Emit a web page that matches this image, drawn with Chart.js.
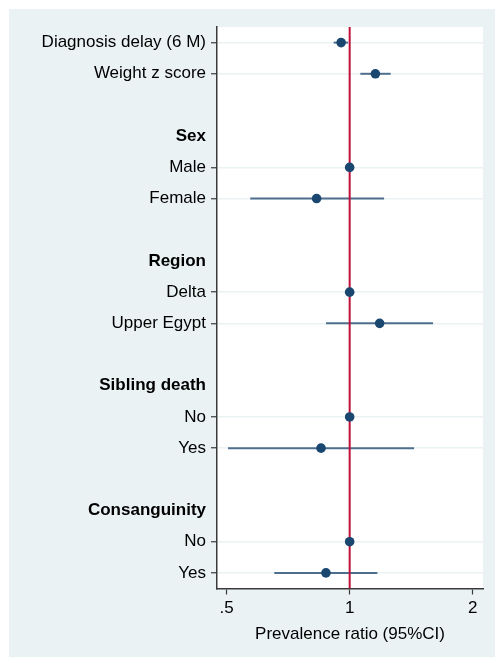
<!DOCTYPE html>
<html>
<head>
<meta charset="utf-8">
<script src="https://cdn.jsdelivr.net/npm/chart.js@4.4.1/dist/chart.umd.min.js"></script>
<style>
  html, body { margin: 0; padding: 0; background: #ffffff; }
  #frame { position: absolute; left: 9px; top: 9px; width: 486px; height: 648px; background: #eaf2f3; }
  canvas { display: block; }
</style>
</head>
<body>
<div id="frame"><canvas id="forest" width="486" height="648"></canvas></div>
<script>
// Row labels, top to bottom (blank strings are spacer rows)
const rowLabels = [
  'Diagnosis delay (6 M)', 'Weight z score', '',
  'Sex', 'Male', 'Female', '',
  'Region', 'Delta', 'Upper Egypt', '',
  'Sibling death', 'No', 'Yes', '',
  'Consanguinity', 'No', 'Yes'
];
// Group headings shown in bold without a tick
const headerRows = [3, 7, 11, 15];

// Prevalence ratios and 95% confidence limits per row (null = no estimate)
const ratio  = [0.953, 1.156, null, null, 1, 0.830, null, null, 1, 1.184, null, null, 1, 0.851, null, null, 1, 0.875];
const ciLow  = [0.914, 1.062, null, null, null, 0.571, null, null, null, 0.875, null, null, null, 0.504, null, null, null, 0.654];
const ciHigh = [0.991, 1.260, null, null, null, 1.214, null, null, null, 1.600, null, null, null, 1.438, null, null, null, 1.169];

// Null-effect reference
const refValue = 1;

// x-axis ticks
const xTicks = [0.5, 1, 2];
const xTickLabels = ['.5', '1', '2'];

const FONT = '"Liberation Sans", Arial, Helvetica, sans-serif';
const isLabelled = i => ratio[i] !== null && ratio[i] !== undefined;

const points = ratio.map((v, i) => v === null ? null : { x: v, y: i }).filter(p => p);

// White plot region
const plotBackground = {
  id: 'plotBackground',
  beforeDraw(chart) {
    const { ctx, chartArea: a } = chart;
    ctx.save();
    ctx.fillStyle = '#ffffff';
    ctx.fillRect(a.left, a.top, a.right - a.left, a.bottom - a.top);
    ctx.restore();
  }
};

// Confidence-interval spikes, drawn under the reference line and markers
const ciSpikes = {
  id: 'ciSpikes',
  beforeDatasetsDraw(chart) {
    const { ctx, scales: { x, y } } = chart;
    ctx.save();
    ctx.strokeStyle = '#4e6e8e';
    ctx.lineWidth = 2;
    ciLow.forEach((lo, i) => {
      if (lo === null) return;
      const py = y.getPixelForValue(i);
      ctx.beginPath();
      ctx.moveTo(x.getPixelForValue(lo), py);
      ctx.lineTo(x.getPixelForValue(ciHigh[i]), py);
      ctx.stroke();
    });
    ctx.restore();
  }
};

new Chart(document.getElementById('forest'), {
  type: 'scatter',
  data: {
    datasets: [
      {
        type: 'line',
        data: [{ x: refValue, y: -0.5 }, { x: refValue, y: rowLabels.length - 0.5 }],
        borderColor: '#c0103a',
        borderWidth: 2,
        pointRadius: 0,
        order: 2
      },
      {
        data: points,
        backgroundColor: '#1a476f',
        borderColor: '#1a476f',
        pointRadius: 4.8,
        pointBorderWidth: 0,
        order: 1
      }
    ]
  },
  options: {
    responsive: false,
    animation: false,
    layout: { padding: { top: 18, right: 12, left: 0, bottom: 12 } },
    plugins: { legend: { display: false }, tooltip: { enabled: false } },
    scales: {
      x: {
        type: 'logarithmic',
        min: 0.4735,
        max: 2.12,
        afterBuildTicks: s => { s.ticks = xTicks.map(v => ({ value: v })); },
        afterFit: s => { s.height = 56.5; },
        ticks: {
          autoSkip: false,
          maxRotation: 0,
          padding: 4,
          color: '#000',
          font: { family: FONT, size: 17 },
          callback: v => xTickLabels[xTicks.indexOf(v)]
        },
        grid: { drawOnChartArea: false, tickLength: 6, tickColor: '#3a3a3a', tickWidth: 1.2 },
        border: { display: true, color: '#3a3a3a', width: 1.5 },
        title: {
          display: true,
          text: 'Prevalence ratio (95%CI)',
          color: '#000',
          font: { family: FONT, size: 17 },
          padding: { top: 4, bottom: 0 }
        }
      },
      y: {
        type: 'linear',
        reverse: true,
        min: -0.5,
        max: rowLabels.length - 0.5,
        afterBuildTicks: s => { s.ticks = rowLabels.map((_, i) => ({ value: i })); },
        afterFit: s => { s.width = 208; },
        ticks: {
          autoSkip: false,
          padding: 5,
          color: '#000',
          font: c => ({ family: FONT, size: 17, weight: headerRows.includes(c.index) ? 'bold' : 'normal' }),
          callback: v => rowLabels[v]
        },
        grid: {
          tickLength: 6,
          lineWidth: 1.5,
          color: c => (c.tick && isLabelled(c.tick.value)) ? '#eaf2f3' : 'rgba(0,0,0,0)',
          tickColor: c => (c.tick && isLabelled(c.tick.value)) ? '#3a3a3a' : 'rgba(0,0,0,0)',
          tickWidth: 1.2
        },
        border: { display: true, color: '#3a3a3a', width: 1.5 }
      }
    }
  },
  plugins: [plotBackground, ciSpikes]
});
</script>
</body>
</html>
